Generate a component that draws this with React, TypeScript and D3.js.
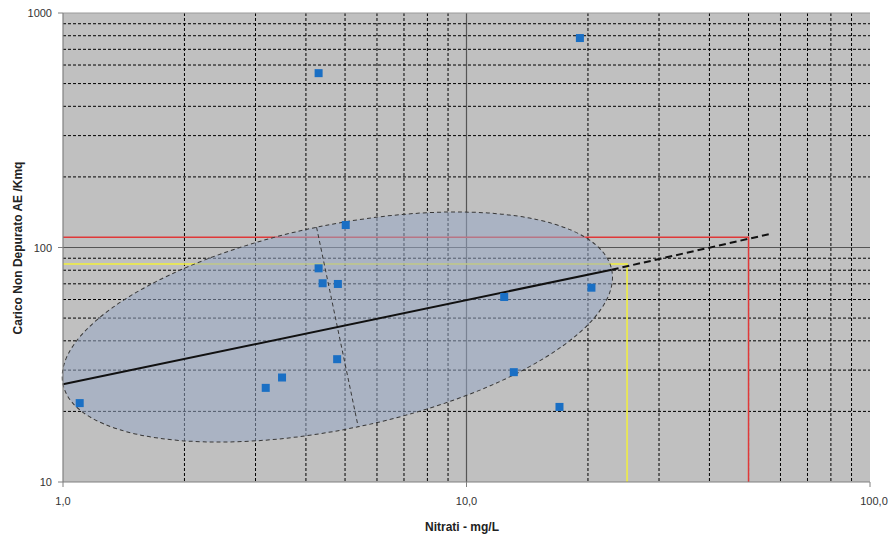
import React from "react";
import * as d3 from "d3";

const nitrati: number[] = [1.1, 3.18, 3.49, 4.78, 4.3, 4.4, 4.8, 5.02, 4.3, 19.1, 12.4, 13.1, 17.0, 20.4];
const carico: number[] = [21.7, 25.2, 27.9, 33.4, 81.5, 70.4, 69.9, 124.7, 554, 782, 61.5, 29.4, 20.9, 67.4];

const trendSolid: [number, number][] = [[1, 26.1], [22.9, 80.4]];
const trendDash: [number, number][] = [[22.9, 80.4], [57, 114.6]];
const ellipseMinor: [number, number][] = [[4.25, 122], [5.39, 17.2]];
const redPoint: [number, number] = [50, 110.5];
const yellowPoint: [number, number] = [25, 85];

const xTicks = [1, 10, 100];
const xTickLabels = ["1,0", "10,0", "100,0"];
const yTicks = [10, 100, 1000];
const yTickLabels = ["10", "100", "1000"];
const xMinor = [2, 3, 4, 5, 6, 7, 8, 9, 20, 30, 40, 50, 60, 70, 80, 90];
const yMinor = [20, 30, 40, 50, 60, 70, 80, 90, 200, 300, 400, 500, 600, 700, 800, 900];

export default function App() {
  const W = 889, H = 540;
  const L = 63, R = 870, T = 13, B = 482;
  const x = d3.scaleLog().domain([1, 100]).range([L, R]);
  const y = d3.scaleLog().domain([10, 1000]).range([B, T]);
  const line = d3.line<[number, number]>().x((d) => x(d[0])).y((d) => y(d[1]));

  const p1 = [x(trendSolid[0][0]), y(trendSolid[0][1])];
  const p2 = [x(trendSolid[1][0]), y(trendSolid[1][1])];
  const cx = (p1[0] + p2[0]) / 2, cy = (p1[1] + p2[1]) / 2;
  const rx = Math.hypot(p2[0] - p1[0], p2[1] - p1[1]) / 2;
  const ang = (Math.atan2(p2[1] - p1[1], p2[0] - p1[0]) * 180) / Math.PI;
  const m1 = [x(ellipseMinor[0][0]), y(ellipseMinor[0][1])];
  const m2 = [x(ellipseMinor[1][0]), y(ellipseMinor[1][1])];
  const ry = Math.hypot(m2[0] - m1[0], m2[1] - m1[1]) / 2;

  const font = "Arial, 'Liberation Sans', sans-serif";

  return (
    <svg width={W} height={H} style={{ display: "block", position: "absolute", left: 0, top: 0 }} fontFamily={font}>
      <rect x={0} y={0} width={W} height={H} fill="#ffffff" />
      <rect x={L} y={T} width={R - L} height={B - T} fill="#c0c0c0" />
      {xMinor.map((v) => (
        <line key={"xm" + v} x1={x(v)} x2={x(v)} y1={T} y2={B} stroke="#000" strokeWidth={1} strokeDasharray="3,2" />
      ))}
      {yMinor.map((v) => (
        <line key={"ym" + v} x1={L} x2={R} y1={y(v)} y2={y(v)} stroke="#000" strokeWidth={1} strokeDasharray="3,2" />
      ))}
      <line x1={x(10)} x2={x(10)} y1={T} y2={B} stroke="#555" strokeWidth={1.2} />
      <line x1={L} x2={R} y1={y(100)} y2={y(100)} stroke="#555" strokeWidth={1.2} />
      {/* reference lines */}
      <path d={line([[1, redPoint[1]], redPoint, [redPoint[0], 10]]) || ""} fill="none" stroke="#e03838" strokeWidth={1.5} />
      <path d={line([[1, yellowPoint[1]], yellowPoint, [yellowPoint[0], 10]]) || ""} fill="none" stroke="#f2f03c" strokeWidth={1.5} />
      {/* ellipse */}
      <ellipse cx={cx} cy={cy} rx={rx} ry={ry} transform={`rotate(${ang} ${cx} ${cy})`} fill="#98a8c4" fillOpacity={0.55} stroke="#383838" strokeWidth={1} strokeDasharray="4,3" />
      <line x1={m1[0]} y1={m1[1]} x2={m2[0]} y2={m2[1]} stroke="#383838" strokeWidth={1} strokeDasharray="4,3" />
      {/* trend */}
      <path d={line(trendSolid) || ""} fill="none" stroke="#111" strokeWidth={2} />
      <path d={line(trendDash) || ""} fill="none" stroke="#111" strokeWidth={2} strokeDasharray="7,4" />
      {/* axes */}
      <line x1={L} x2={R} y1={T} y2={T} stroke="#9a9a9a" strokeWidth={1} />
      <line x1={L} x2={L} y1={T} y2={B} stroke="#808080" strokeWidth={1.2} />
      <line x1={L} x2={R} y1={B} y2={B} stroke="#808080" strokeWidth={1.2} />
      {yTicks.map((v, i) => (
        <g key={"yt" + v}>
          <line x1={L - 5} x2={L} y1={y(v)} y2={y(v)} stroke="#808080" />
          <text x={52} y={y(v) + 4} textAnchor="end" fontSize={11} fill="#333">{yTickLabels[i]}</text>
        </g>
      ))}
      {xTicks.map((v, i) => (
        <g key={"xt" + v}>
          <line x1={x(v)} x2={x(v)} y1={B} y2={B + 5} stroke="#808080" />
          <text x={x(v) + (i === 2 ? 4 : 0)} y={505} textAnchor="middle" fontSize={11} fill="#333">{xTickLabels[i]}</text>
        </g>
      ))}
      {/* points */}
      {nitrati.map((v, i) => (
        <rect key={"p" + i} x={x(v) - 4} y={y(carico[i]) - 4} width={8} height={8} fill="#1a6fc4" />
      ))}
      <text x={462} y={531} textAnchor="middle" fontSize={12} fontWeight="bold" fill="#222">Nitrati - mg/L</text>
      <text transform={`translate(22 ${248}) rotate(-90)`} textAnchor="middle" fontSize={12} fontWeight="bold" fill="#222">Carico Non Depurato AE /Kmq</text>
    </svg>
  );
}
